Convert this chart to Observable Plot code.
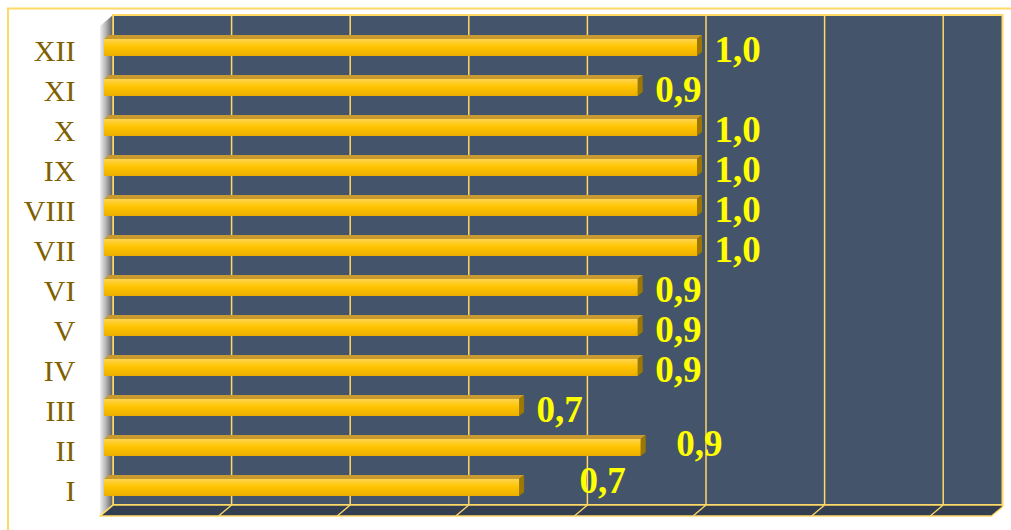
<!DOCTYPE html>
<html>
<head>
<meta charset="utf-8">
<script src="https://cdn.jsdelivr.net/npm/d3@7"></script>
<script src="https://cdn.jsdelivr.net/npm/@observablehq/plot@0.6"></script>
<style>
  html, body { margin: 0; padding: 0; background: #ffffff; }
  #chart { width: 1011px; height: 530px; overflow: hidden; }
</style>
</head>
<body>
<div id="chart"></div>
<script>
// ---- data ----
const months = ["I", "II", "III", "IV", "V", "VI", "VII", "VIII", "IX", "X", "XI", "XII"];
const values = [0.7, 0.905, 0.7, 0.9, 0.9, 0.9, 1.0, 1.0, 1.0, 1.0, 0.9, 1.0];
const xTicks = [0, 0.2, 0.4, 0.6, 0.8, 1.0, 1.2, 1.4];
const xDomain = [0, 1.5];

const data = months.map((m, i) => ({month: m, value: values[i]}));
const fmt = v => v.toFixed(1).replace(".", ",");

// ---- styling constants (3D look) ----
const BACK = [9, -7.6];   // back wall offset from bar plane
const FRONT = [-4, 3.4];  // front edge offset from bar plane
const BAR_D = [5, -4];    // bar depth
const GOLD_LINE = "#FFD966";
const WALL = "#44546A";
const FLOOR = "#333F50";
const NS = "http://www.w3.org/2000/svg";

function el(tag, attrs, parent) {
  const e = document.createElementNS(NS, tag);
  for (const k in attrs) e.setAttribute(k, attrs[k]);
  if (parent) parent.appendChild(e);
  return e;
}
const pts = arr => arr.map(p => p.join(",")).join(" ");

// walls, floor, gridlines
function chartBox(index, scales, values_, dims) {
  const g = el("g", {});
  const x = scales.x;
  const x0 = x(xDomain[0]), xr = x(xDomain[1]);
  const yt = dims.marginTop, yb = dims.height - dims.marginBottom;
  const defs = el("defs", {}, g);
  const lg = el("linearGradient", {id: "leftwall", x1: "0", x2: "1", y1: "0", y2: "0"}, defs);
  el("stop", {offset: "0", "stop-color": "#f0f0f0"}, lg);
  el("stop", {offset: "0.45", "stop-color": "#b4b4b4"}, lg);
  el("stop", {offset: "1", "stop-color": "#5a5a5a"}, lg);

  // outer chart border
  el("rect", {x: 8, y: 8.5, width: dims.width + 20, height: dims.height + 20,
    fill: "none", stroke: GOLD_LINE, "stroke-width": 2}, g);

  // back wall
  el("rect", {x: x0 + BACK[0], y: yt + BACK[1], width: xr - x0, height: yb - yt,
    fill: WALL, stroke: GOLD_LINE, "stroke-width": 2}, g);
  // left wall
  el("polygon", {points: pts([[x0 + FRONT[0], yt + FRONT[1]], [x0 + BACK[0], yt + BACK[1]],
    [x0 + BACK[0], yb + BACK[1]], [x0 + FRONT[0], yb + FRONT[1]]]), fill: "url(#leftwall)"}, g);
  // floor
  el("polygon", {points: pts([[x0 + FRONT[0], yb + FRONT[1]], [xr + FRONT[0] + 2, yb + FRONT[1]],
    [xr + BACK[0], yb + BACK[1] + 2], [xr + BACK[0], yb + BACK[1]], [x0 + BACK[0], yb + BACK[1]]]),
    fill: FLOOR, stroke: GOLD_LINE, "stroke-width": 1.5, "stroke-linejoin": "round"}, g);
  // gridlines on back wall + diagonal ticks on the floor
  for (const t of xTicks) {
    const xt = x(t);
    el("line", {x1: xt + BACK[0], x2: xt + BACK[0], y1: yt + BACK[1], y2: yb + BACK[1],
      stroke: GOLD_LINE, "stroke-width": 1.5}, g);
    el("line", {x1: xt + FRONT[0], x2: xt + BACK[0], y1: yb + FRONT[1], y2: yb + BACK[1],
      stroke: GOLD_LINE, "stroke-width": 1.3}, g);
  }
  return g;
}

// 3D bars: Plot.barX draws the front faces; the render transform adds top and end faces
function bars3dRender(index, scales, values_, dims, context, next) {
  const g = next(index, scales, values_, dims, context);
  const defs = el("defs", {});
  const fg = el("linearGradient", {id: "barfront", x1: "0", x2: "0", y1: "0", y2: "1"}, defs);
  el("stop", {offset: "0", "stop-color": "#FFD54F"}, fg);
  el("stop", {offset: "0.45", "stop-color": "#FFC400"}, fg);
  el("stop", {offset: "1", "stop-color": "#E9AE00"}, fg);
  g.insertBefore(defs, g.firstChild);
  const [dx, dy] = BAR_D;
  for (const r of Array.from(g.querySelectorAll("rect"))) {
    const x0 = +r.getAttribute("x"), w = +r.getAttribute("width");
    const y0 = +r.getAttribute("y"), h = +r.getAttribute("height");
    const x1 = x0 + w, y1 = y0 + h;
    r.setAttribute("fill", "url(#barfront)");
    const top = el("polygon", {points: pts([[x0, y0], [x1, y0], [x1 + dx, y0 + dy], [x0 + dx, y0 + dy]]),
      fill: "#C99A2E"});
    const end = el("polygon", {points: pts([[x1, y0], [x1 + dx, y0 + dy], [x1 + dx, y1 + dy], [x1, y1]]),
      fill: "#9C7800"});
    r.parentNode.insertBefore(top, r);
    r.parentNode.insertBefore(end, r);
  }
  return g;
}

const labelFont = {fill: "#FFFF00", fontSize: 37, fontWeight: "bold",
  fontFamily: "Liberation Serif, Times New Roman, serif", textAnchor: "start"};

const plot = Plot.plot({
  width: 1011,
  height: 530,
  marginLeft: 104,
  marginRight: 17.5,
  marginTop: 22.6,
  marginBottom: 17.4,
  style: {background: "transparent", fontFamily: "Liberation Serif, Times New Roman, serif"},
  x: {domain: xDomain, axis: null},
  y: {domain: months.slice().reverse(), paddingInner: 0.584, paddingOuter: 0.292, label: null, axis: null},
  marks: [
    chartBox,
    Plot.barX(data, {x: "value", y: "month", fill: "#FFC400", render: bars3dRender}),
    Plot.text(data.filter(d => d.month !== "I" && d.month !== "II"),
      {x: "value", y: "month", text: d => fmt(d.value), dx: 17, dy: 2, ...labelFont}),
    Plot.text(data.filter(d => d.month === "II"),
      {x: "value", y: "month", text: d => fmt(d.value), dx: 35, dy: -4, ...labelFont}),
    Plot.text(data.filter(d => d.month === "I"),
      {x: "value", y: "month", text: d => fmt(d.value), dx: 60, dy: -6.5, ...labelFont}),
    Plot.axisY({tickSize: 0, tickPadding: 29, fill: "#7F6000", fontSize: 30,
      fontFamily: "Liberation Serif, Times New Roman, serif", label: null, dy: 3})
  ]
});
document.getElementById("chart").appendChild(plot);
</script>
</body>
</html>
